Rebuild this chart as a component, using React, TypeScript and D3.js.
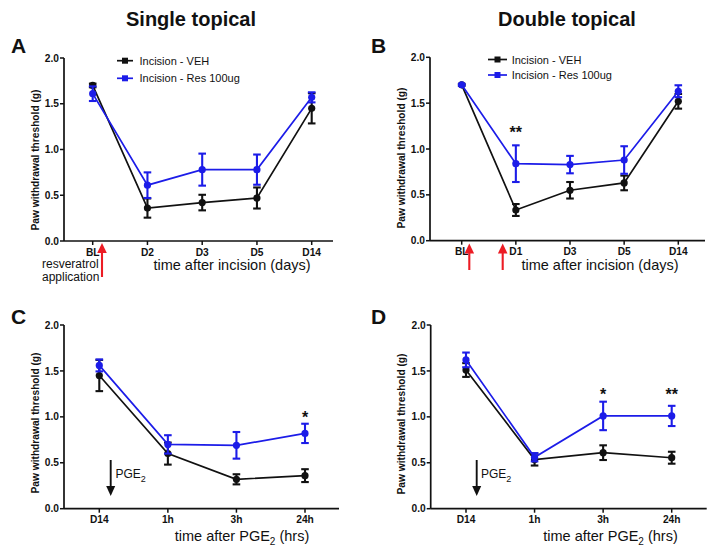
import React from 'react'
import {scaleLinear, scalePoint, line} from 'd3'

const W = 714
const H = 556
const FONT = "'Liberation Sans', Arial, Helvetica, sans-serif"
const BLUE = '#1c1ce8'
const BLACK = '#111'

// y ticks shared by all four panels
const Y_TICKS = [0, 0.5, 1.0, 1.5, 2.0]

// panel A - single topical, incision
const CAT_A = ['BL', 'D2', 'D3', 'D5', 'D14']
const A_VEH = [1.70, 0.36, 0.42, 0.47, 1.45]
const A_VEH_ERR = [0.02, 0.105, 0.085, 0.115, 0.165]
const A_RES = [1.61, 0.61, 0.78, 0.78, 1.57]
const A_RES_ERR = [0.08, 0.14, 0.175, 0.165, 0.055]

// panel B - double topical, incision
const CAT_B = ['BL', 'D1', 'D3', 'D5', 'D14']
const B_VEH = [1.70, 0.335, 0.55, 0.63, 1.52]
const B_VEH_ERR = [0.01, 0.065, 0.09, 0.08, 0.08]
const B_RES = [1.70, 0.84, 0.83, 0.88, 1.63]
const B_RES_ERR = [0.01, 0.2, 0.095, 0.15, 0.065]
const B_STARS = [{cat: 'D1', text: '**', value: 1.12}]

// panel C - single topical, PGE2
const CAT_C = ['D14', '1h', '3h', '24h']
const C_VEH = [1.45, 0.60, 0.32, 0.36]
const C_VEH_ERR = [0.17, 0.12, 0.055, 0.07]
const C_RES = [1.56, 0.70, 0.69, 0.82]
const C_RES_ERR = [0.065, 0.10, 0.145, 0.105]
const C_STARS = [{cat: '24h', text: '*', value: 0.93}]

// panel D - double topical, PGE2
const CAT_D = ['D14', '1h', '3h', '24h']
const D_VEH = [1.51, 0.535, 0.61, 0.555]
const D_VEH_ERR = [0.075, 0.065, 0.08, 0.065]
const D_RES = [1.62, 0.56, 1.01, 1.01]
const D_RES_ERR = [0.08, 0.045, 0.155, 0.11]
const D_STARS = [{cat: '3h', text: '*', value: 1.18}, {cat: '24h', text: '**', value: 1.18}]

const LEGEND = ['Incision - VEH', 'Incision - Res 100ug']

type Star = {cat: string, text: string, value: number}

function Series({cats, vals, errs, x, y, color}: any) {
    const path = line<number>().x((d, i) => x(cats[i])).y(d => y(d))
    return (
        <g>
            <path d={path(vals) || ''} fill="none" stroke={color} strokeWidth={1.7} />
            {vals.map((v: number, i: number) => {
                const cx = x(cats[i])
                const top = y(v + errs[i])
                const bot = y(v - errs[i])
                return (
                    <g key={i} stroke={color} strokeWidth={2.1}>
                        <line x1={cx} x2={cx} y1={top} y2={bot} />
                        <line x1={cx - 3.8} x2={cx + 3.8} y1={top} y2={top} />
                        <line x1={cx - 3.8} x2={cx + 3.8} y1={bot} y2={bot} />
                        <circle cx={cx} cy={y(v)} r={3.6} fill={color} stroke="none" />
                    </g>
                )
            })}
        </g>
    )
}

function Panel(p: any) {
    const x = scalePoint<string>().domain(p.cats).range(p.xRange)
    const y = scaleLinear().domain([0, 2]).range(p.yRange)
    const y0 = y(0)
    return (
        <g>
            <text x={p.letterPos[0]} y={p.letterPos[1]} fontSize={21} fontWeight="bold">{p.letter}</text>
            {/* y axis */}
            <line x1={p.axisX[0]} x2={p.axisX[0]} y1={y(2)} y2={y0} stroke={BLACK} strokeWidth={1.7} />
            {Y_TICKS.map(t => (
                <g key={t}>
                    <line x1={p.axisX[0] - 4} x2={p.axisX[0]} y1={y(t)} y2={y(t)} stroke={BLACK} strokeWidth={1.5} />
                    <text x={p.axisX[0] - 5} y={y(t) + 3.6} fontSize={10.2} fontWeight="bold" textAnchor="end">{t.toFixed(1)}</text>
                </g>
            ))}
            <text transform={`translate(${p.yLabelPos[0]},${p.yLabelPos[1]}) rotate(-90)`} fontSize={10.2} fontWeight="bold" textAnchor="middle">
                Paw withdrawal threshold (g)
            </text>
            {/* x axis */}
            <line x1={p.axisX[0]} x2={p.axisX[1]} y1={y0} y2={y0} stroke={BLACK} strokeWidth={1.7} />
            {p.cats.map((c: string) => (
                <g key={c}>
                    <line x1={x(c)} x2={x(c)} y1={y0} y2={y0 + 4} stroke={BLACK} strokeWidth={1.5} />
                    <text x={x(c)} y={y0 + 14.5} fontSize={10.2} fontWeight="bold" textAnchor="middle">{c}</text>
                </g>
            ))}
            <text x={p.xLabelPos[0]} y={p.xLabelPos[1]} fontSize={14.5} textAnchor="middle">{p.xLabel}</text>
            {/* data */}
            <Series cats={p.cats} vals={p.veh} errs={p.vehErr} x={x} y={y} color={BLACK} />
            <Series cats={p.cats} vals={p.res} errs={p.resErr} x={x} y={y} color={BLUE} />
            {(p.stars || []).map((s: Star) => (
                <text key={s.cat} x={x(s.cat)} y={y(s.value)} fontSize={16} fontWeight="bold" textAnchor="middle">{s.text}</text>
            ))}
            {p.legend && LEGEND.map((name, i) => {
                const ly = p.legend.ys[i]
                const col = i === 0 ? BLACK : BLUE
                const [lx0, lx1] = p.legend.line
                return (
                    <g key={name}>
                        <line x1={lx0} x2={lx1} y1={ly} y2={ly} stroke={col} strokeWidth={1.7} />
                        <rect x={(lx0 + lx1) / 2 - 3} y={ly - 3} width={6} height={6} fill={col} />
                        <text x={p.legend.textX} y={ly + 4} fontSize={11}>{name}</text>
                    </g>
                )
            })}
            {p.children}
        </g>
    )
}

function RedArrow({x, y1, y2}: {x: number, y1: number, y2: number}) {
    return (
        <g fill="#ec1c24" stroke="#ec1c24">
            <line x1={x} x2={x} y1={y1 + 6} y2={y2} strokeWidth={2.1} />
            <path d={`M${x},${y1} L${x - 4.8},${y1 + 10} L${x + 4.8},${y1 + 10} Z`} stroke="none" />
        </g>
    )
}

function DownArrow({x, y1, y2}: {x: number, y1: number, y2: number}) {
    return (
        <g fill={BLACK} stroke={BLACK}>
            <line x1={x} x2={x} y1={y1} y2={y2 - 6} strokeWidth={1.9} />
            <path d={`M${x},${y2} L${x - 4.5},${y2 - 10} L${x + 4.5},${y2 - 10} Z`} stroke="none" />
        </g>
    )
}

const pgeLabel = (
    <>time after PGE<tspan fontSize={10} dy={4}>2</tspan><tspan dy={-4}> (hrs)</tspan></>
)

export default function App() {
    return (
        <svg width={W} height={H} style={{position: 'absolute', left: 0, top: 0, background: '#fff'}}
            fontFamily={FONT} fill={BLACK}>
            <text x={191} y={26} fontSize={20} fontWeight="bold" textAnchor="middle">Single topical</text>
            <text x={567} y={26} fontSize={20} fontWeight="bold" textAnchor="middle">Double topical</text>

            <Panel letter="A" letterPos={[11, 53]} cats={CAT_A} veh={A_VEH} vehErr={A_VEH_ERR} res={A_RES} resErr={A_RES_ERR}
                xRange={[92.7, 311.7]} yRange={[241, 58]} axisX={[64, 333]}
                yLabelPos={[39, 160]} xLabel="time after incision (days)" xLabelPos={[232, 269.5]}
                legend={{line: [117, 133], ys: [60.7, 78.3], textX: 139.5}}>
                <RedArrow x={102} y1={243} y2={277} />
                <text x={42} y={267.5} fontSize={12}>resveratrol</text>
                <text x={42} y={281} fontSize={12}>application</text>
            </Panel>

            <Panel letter="B" letterPos={[371, 53]} cats={CAT_B} veh={B_VEH} vehErr={B_VEH_ERR} res={B_RES} resErr={B_RES_ERR}
                xRange={[461.7, 678.3]} yRange={[240.7, 57.3]} axisX={[430, 705]} stars={B_STARS}
                yLabelPos={[405, 158]} xLabel="time after incision (days)" xLabelPos={[600, 269.5]}
                legend={{line: [488, 507], ys: [59.5, 75], textX: 511.7}}>
                <RedArrow x={469.3} y1={243.5} y2={270} />
                <RedArrow x={502.7} y1={243.5} y2={270} />
            </Panel>

            <Panel letter="C" letterPos={[11, 323.5]} cats={CAT_C} veh={C_VEH} vehErr={C_VEH_ERR} res={C_RES} resErr={C_RES_ERR}
                xRange={[99.3, 305]} yRange={[508.7, 325]} axisX={[64, 339]} stars={C_STARS}
                yLabelPos={[39, 423]} xLabel={pgeLabel} xLabelPos={[242, 541]}>
                <DownArrow x={110.7} y1={460} y2={496} />
                <text x={115.5} y={478} fontSize={12}>PGE<tspan fontSize={9} dy={3.5}>2</tspan></text>
            </Panel>

            <Panel letter="D" letterPos={[371, 323.5]} cats={CAT_D} veh={D_VEH} vehErr={D_VEH_ERR} res={D_RES} resErr={D_RES_ERR}
                xRange={[466, 671.7]} yRange={[508.7, 325]} axisX={[430.7, 706.7]} stars={D_STARS}
                yLabelPos={[405, 424]} xLabel={pgeLabel} xLabelPos={[610.5, 541]}>
                <DownArrow x={476.7} y1={460} y2={496} />
                <text x={481} y={478} fontSize={12}>PGE<tspan fontSize={9} dy={3.5}>2</tspan></text>
            </Panel>
        </svg>
    )
}
